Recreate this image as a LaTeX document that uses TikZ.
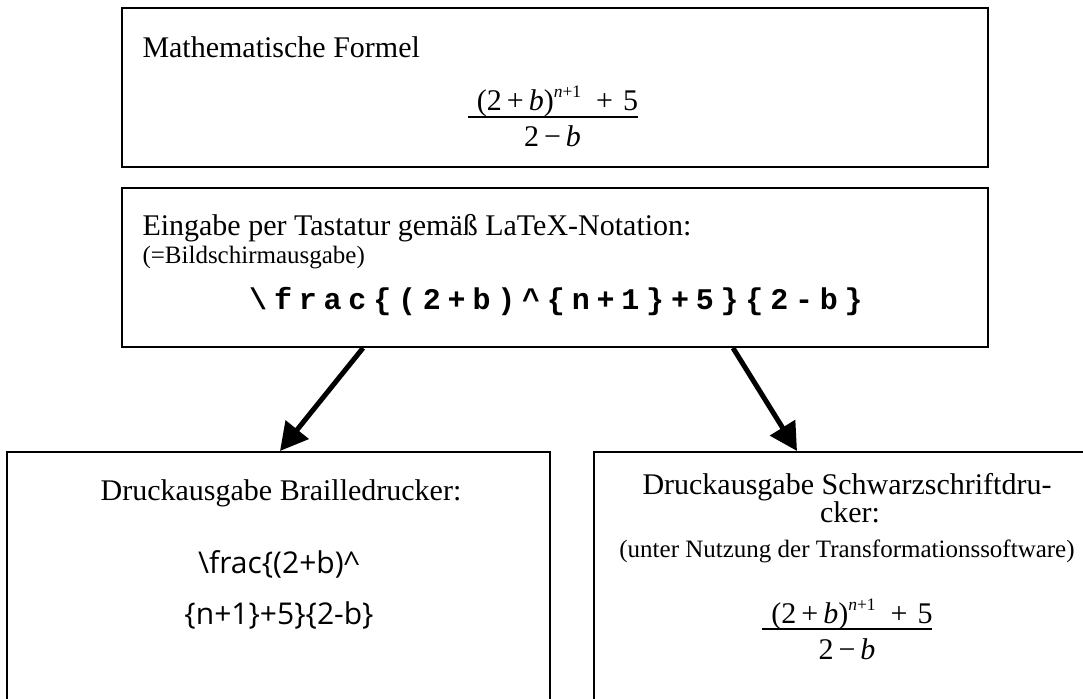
\documentclass[tikz,border=0pt]{standalone}
\usepackage{fontspec}
\setmainfont{Liberation Serif}
\newfontfamily\braillefont{Open Sans}
\newfontfamily\codefont[LetterSpace=22.7]{Liberation Mono}
\usetikzlibrary{arrows.meta,calc}

\newcommand{\zaehler}{(2\,+\,\textit{b})\raisebox{5.2pt}{\fontsize{7}{8}\selectfont\textit{n}+1}\hspace{6pt}+\hspace{4pt}5}
\newcommand{\nenner}{2\,−\,\textit{b}}

\begin{document}
\begin{tikzpicture}[x=0.4pt, y=-0.4pt,
  kasten/.style={draw, line width=0.8pt, rectangle, inner sep=0pt},
  pfeil/.style={line width=2pt, -{Triangle[length=11pt,width=11.5pt]}},
  strich/.style={line width=0.8pt},
  schrift/.style={font=\fontsize{12}{14}\selectfont, inner sep=0pt},
  klein/.style={font=\fontsize{10}{12}\selectfont, inner sep=0pt}]
\useasboundingbox (0,0) rectangle (1083,698);
\clip (0,0) rectangle (1083,698);
% Kaesten
\node[kasten, minimum width=346.4pt, minimum height=63.6pt] (formel) at (555,87.5) {};
\node[kasten, minimum width=346.4pt, minimum height=63.6pt] (eingabe) at (555,267.5) {};
\node[kasten, minimum width=217.2pt, minimum height=123.2pt] (braille) at (278.5,606) {};
\node[kasten, minimum width=202.4pt, minimum height=123.2pt] (schwarz) at (847,606) {};
% Mathematische Formel
\node[schrift, anchor=base west] (titelA) at (142,58) {Mathematische Formel};
\node[schrift, anchor=base] (zaehlerA) at (557.5,111) {\zaehler};
\draw[strich] (468,117) -- (638,117);
\node[schrift, anchor=base] (nennerA) at (552.5,147) {\nenner};
% Eingabe
\node[schrift, anchor=base west] (titelB) at (142,236) {Eingabe per Tastatur gemäß LaTeX-Notation:};
\node[klein, anchor=base west] (hinweisB) at (142,264) {(=Bildschirmausgabe)};
\node[schrift, anchor=base] (codeB) at (556,310) {\codefont\bfseries\textbackslash frac\{(2+b)\textasciicircum\{n+1\}+5\}\{2-b\}};
% Brailledrucker
\node[schrift, anchor=base] (titelC) at (281,500) {Druckausgabe Brailledrucker:};
\node[schrift, anchor=base] (zeileC1) at (279,573) {\braillefont\textbackslash frac\{(2+b)\textasciicircum};
\node[schrift, anchor=base] (zeileC2) at (279,624) {\braillefont\{n+1\}+5\}\{2-b\}};
% Schwarzschriftdrucker
\node[schrift, anchor=base] (titelD1) at (847,494) {Druckausgabe Schwarzschriftdru-};
\node[schrift, anchor=base] (titelD2) at (850,522) {cker:};
\node[klein, anchor=base] (hinweisD) at (847,557) {(unter Nutzung der Transformationssoftware)};
\node[schrift, anchor=base] (zaehlerD) at (852,623) {\zaehler};
\draw[strich] (762,629) -- (932,629);
\node[schrift, anchor=base] (nennerD) at (847,659) {\nenner};
% Pfeile
\draw[pfeil] ($(eingabe.south)+(-192,0)$) -- ($(braille.north)+(1.5,0)$);
\draw[pfeil] ($(eingabe.south)+(178,0)$) -- ($(schwarz.north)+(-50,0)$);
\end{tikzpicture}
\end{document}
